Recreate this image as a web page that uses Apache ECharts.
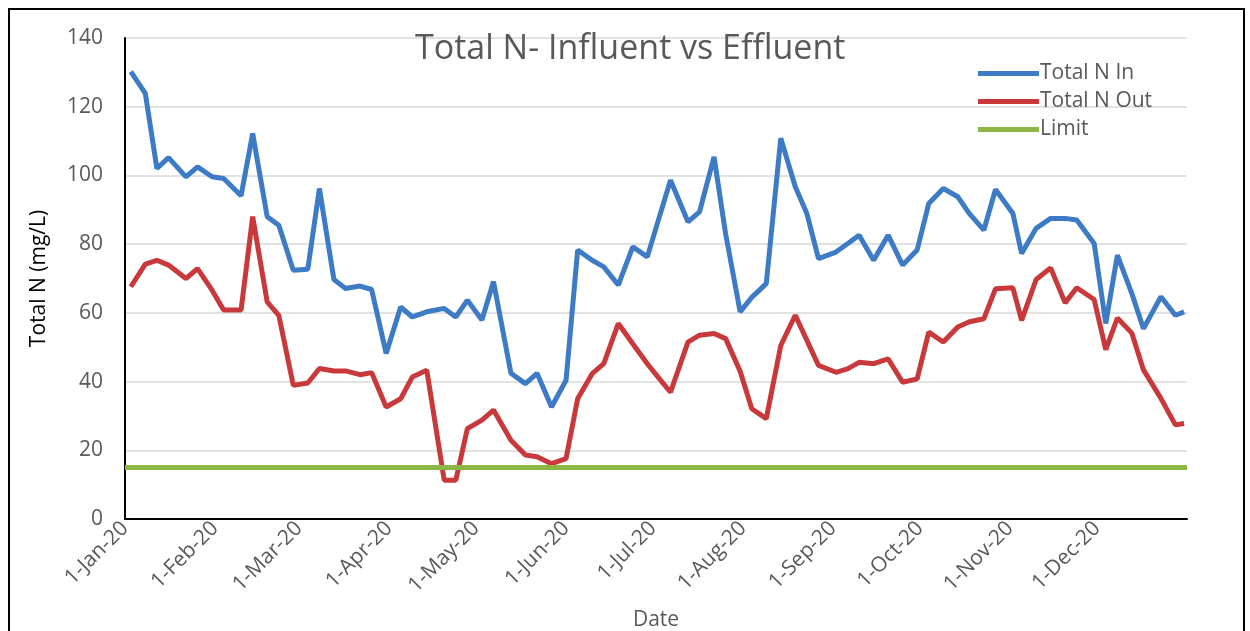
<!DOCTYPE html>
<html>
<head>
<meta charset="utf-8">
<title>Total N- Influent vs Effluent</title>
<script src="https://cdn.jsdelivr.net/npm/echarts@6/dist/echarts.min.js"></script>
<style>
  html, body { margin: 0; padding: 0; background: #fff; }
  #frame { position: absolute; left: 8px; top: 8px; width: 1237px; height: 640px; border: 2px solid #000; box-sizing: border-box; }
  #Echarts { position: absolute; left: 0; top: 0; width: 1250px; height: 631px; }
</style>
</head>
<body>
<div id="frame"></div>
<div id="Echarts"></div>
<script>
// sample dates (2020)
var dates = [
  '2020-01-03', '2020-01-08', '2020-01-12', '2020-01-16', '2020-01-22', '2020-01-26', '2020-01-31', '2020-02-04',
  '2020-02-10', '2020-02-14', '2020-02-19', '2020-02-23', '2020-02-28', '2020-03-04', '2020-03-08', '2020-03-13',
  '2020-03-17', '2020-03-22', '2020-03-26', '2020-03-31', '2020-04-05', '2020-04-09', '2020-04-14', '2020-04-20',
  '2020-04-24', '2020-04-28', '2020-05-03', '2020-05-07', '2020-05-13', '2020-05-18', '2020-05-22', '2020-05-27',
  '2020-06-01', '2020-06-05', '2020-06-10', '2020-06-14', '2020-06-19', '2020-06-24', '2020-06-29', '2020-07-03',
  '2020-07-07', '2020-07-13', '2020-07-17', '2020-07-22', '2020-07-26', '2020-07-31', '2020-08-04', '2020-08-09',
  '2020-08-14', '2020-08-19', '2020-08-23', '2020-08-27', '2020-09-02', '2020-09-06', '2020-09-10', '2020-09-15',
  '2020-09-20', '2020-09-25', '2020-09-30', '2020-10-04', '2020-10-09', '2020-10-14', '2020-10-18', '2020-10-23',
  '2020-10-27', '2020-11-02', '2020-11-05', '2020-11-10', '2020-11-15', '2020-11-20', '2020-11-24', '2020-11-30',
  '2020-12-04', '2020-12-08', '2020-12-13', '2020-12-17', '2020-12-23', '2020-12-28', '2020-12-31'
];

// Total N In (mg/L)
var totalNIn = [
  130.2, 123.9, 102, 105.2, 99.6, 102.5, 99.6, 99.1,
  94.1, 112.2, 88, 85.5, 72.4, 72.7, 96.2, 69.7,
  67.1, 67.8, 66.8, 48.2, 61.7, 58.8, 60.3, 61.3,
  58.8, 63.7, 57.9, 69.1, 42.4, 39.4, 42.4, 32.6,
  40.4, 78.3, 75.3, 73.4, 68.1, 79.2, 76.3, 87.5,
  98.6, 86.5, 89.4, 105.4, 83, 60.3, 64.5, 68.5,
  110.8, 96.7, 88.9, 75.8, 77.7, 80.1, 82.6, 75.3,
  82.6, 73.9, 78.3, 91.8, 96.2, 93.8, 88.9, 84.1,
  95.9, 88.9, 77.3, 84.6, 87.5, 87.5, 87, 80.2,
  56.9, 76.8, 65.6, 55.4, 64.7, 59.3, 60.3
];

// Total N Out (mg/L)
var totalNOut = [
  67.6, 74.2, 75.3, 73.9, 70, 72.9, 66.6, 60.8,
  60.8, 88, 63.2, 59.3, 38.9, 39.6, 43.8, 43.1,
  43.1, 42, 42.6, 32.6, 35, 41.3, 43.3, 11.3,
  11.3, 26.3, 28.8, 31.7, 22.9, 18.6, 18.1, 16.1,
  17.6, 35, 42.3, 45.2, 56.9, 51, 45.2, 41,
  36.9, 51.5, 53.5, 54, 52.5, 43, 32.1, 29.2,
  50.5, 59.3, 52, 44.7, 42.7, 43.7, 45.6, 45.2,
  46.6, 39.8, 40.8, 54.4, 51.5, 55.9, 57.4, 58.3,
  67, 67.3, 57.8, 69.7, 73.1, 62.9, 67.3, 63.9,
  49.3, 58.5, 54.1, 43.4, 35.1, 27.4, 27.8
];

// discharge limit
var limitDates = ['2020-01-01', '2021-01-01'];
var limitValues = [15, 15];

var monthNames = ['Jan', 'Feb', 'Mar', 'Apr', 'May', 'Jun', 'Jul', 'Aug', 'Sep', 'Oct', 'Nov', 'Dec'];
var DAY = 24 * 3600 * 1000;
var font = '"Open Sans", sans-serif';

function pairs(xs, ys) {
    return xs.map(function (x, i) { return [x, ys[i]]; });
}

var myChart = echarts.init(document.getElementById('Echarts'));

var option = {
    backgroundColor: 'transparent',
    animation: false,
    title: {
        text: 'Total N- Influent vs Effluent',
        left: 410,
        top: 27,
        textStyle: { fontFamily: font, fontSize: 34, fontWeight: 'normal', color: '#595959' }
    },
    legend: {
        orient: 'vertical',
        left: 973,
        top: 58,
        itemWidth: 61,
        itemHeight: 5,
        itemGap: 7,
        icon: 'rect',
        textStyle: { fontFamily: font, fontSize: 21, color: '#595959', padding: [0, 0, 0, -4] },
        data: ['Total N In', 'Total N Out', 'Limit']
    },
    grid: { left: 125, right: 63, top: 38, bottom: 112, containLabel: false, outerBoundsMode: 'none' },
    xAxis: {
        type: 'time',
        min: '2020-01-01',
        max: '2021-01-01',
        minInterval: 28 * DAY,
        maxInterval: 31 * DAY,
        name: 'Date',
        nameLocation: 'middle',
        nameGap: 91,
        nameTextStyle: { fontFamily: font, fontSize: 21, color: '#595959' },
        axisLine: { lineStyle: { color: '#000', width: 2 } },
        axisTick: { show: false },
        splitLine: { show: false },
        axisLabel: {
            rotate: 45,
            margin: 6,
            fontFamily: font,
            fontSize: 21,
            color: '#595959',
            hideOverlap: false,
            formatter: function (val) {
                var d = new Date(val);
                if (d.getFullYear() > 2020) return '';
                return d.getDate() + '-' + monthNames[d.getMonth()] + '-' + String(d.getFullYear()).slice(2);
            }
        }
    },
    yAxis: {
        type: 'value',
        min: 0,
        max: 140,
        interval: 20,
        name: 'Total N (mg/L)',
        nameLocation: 'middle',
        nameRotate: 90,
        nameGap: 75,
        nameTextStyle: { fontFamily: font, fontSize: 21, color: '#000' },
        axisLine: { show: true, lineStyle: { color: '#000', width: 2 } },
        axisTick: { show: false },
        splitLine: { lineStyle: { color: '#D9D9D9', width: 1.5 } },
        axisLabel: { margin: 22, fontFamily: font, fontSize: 21, color: '#595959' }
    },
    series: [
        {
            name: 'Total N In',
            type: 'line',
            showSymbol: false,
            color: '#3D7BC6',
            lineStyle: { width: 5, color: '#3D7BC6' },
            data: pairs(dates, totalNIn)
        },
        {
            name: 'Total N Out',
            type: 'line',
            showSymbol: false,
            color: '#C9393B',
            lineStyle: { width: 5, color: '#C9393B' },
            data: pairs(dates, totalNOut)
        },
        {
            name: 'Limit',
            type: 'line',
            showSymbol: false,
            color: '#8DB645',
            lineStyle: { width: 5, color: '#8DB645' },
            data: pairs(limitDates, limitValues)
        }
    ]
};

myChart.setOption(option);
</script>
</body>
</html>
